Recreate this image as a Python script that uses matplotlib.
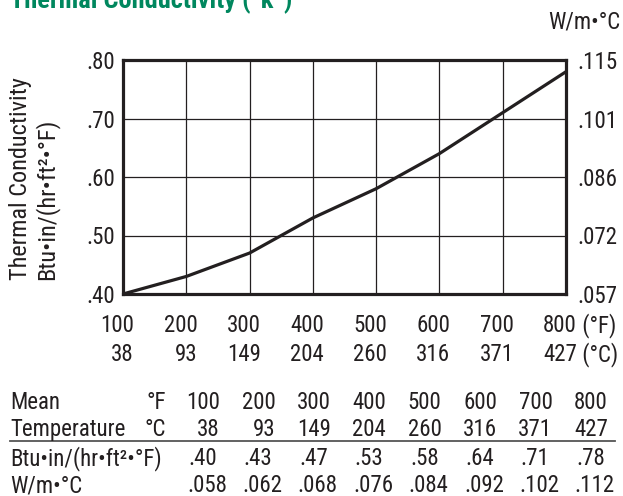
import matplotlib
matplotlib.use("Agg")
import matplotlib.pyplot as plt
import matplotlib.transforms as mtransforms

plt.rcParams['font.family'] = ['Roboto Condensed', 'DejaVu Sans']

temp_f = [100, 200, 300, 400, 500, 600, 700, 800]
temp_c = [38, 93, 149, 204, 260, 316, 371, 427]
k_btu = [0.40, 0.43, 0.47, 0.53, 0.58, 0.64, 0.71, 0.78]
k_si = [0.058, 0.062, 0.068, 0.076, 0.084, 0.092, 0.102, 0.112]
k_btu_lbl = ['.40', '.43', '.47', '.53', '.58', '.64', '.71', '.78']
k_si_lbl = ['.058', '.062', '.068', '.076', '.084', '.092', '.102', '.112']
left_ticks = [0.40, 0.50, 0.60, 0.70, 0.80]
left_lbl = ['.40', '.50', '.60', '.70', '.80']
right_lbl = ['.057', '.072', '.086', '.101', '.115']

W, H = 623, 496
FS = 16.5
ink = '#231f20'
green = '#00875e'


def fx(x):
    return x / W


def fy(y):
    return 1 - y / H


fig = plt.figure(figsize=(W / 100, H / 100), dpi=100)
ax = fig.add_axes([fx(123), fy(294), (566 - 123) / W, (294 - 60) / H])

ax.plot(temp_f, k_btu, color=ink, lw=2.3, solid_capstyle='butt', solid_joinstyle='round', zorder=3)
ax.set_xlim(100, 800)
ax.set_ylim(0.40, 0.80)
ax.set_xticks(temp_f)
ax.set_yticks(left_ticks)
ax.grid(True, color=ink, lw=0.9)
ax.set_axisbelow(True)
for s in ax.spines.values():
    s.set_linewidth(2.3)
    s.set_color(ink)
ax.tick_params(length=0)
ax.set_xticklabels([])
ax.set_yticklabels(left_lbl, fontsize=FS, color=ink)
ax.tick_params(axis='y', pad=5.5)

ax2 = ax.twinx()
ax2.set_ylim(0.40, 0.80)
ax2.set_yticks(left_ticks)
ax2.set_yticklabels(right_lbl, fontsize=FS, color=ink)
ax2.tick_params(length=0, pad=8.5)
for s in ax2.spines.values():
    s.set_visible(False)

# x tick labels, two rows, right edge a bit past the gridline
tr = mtransforms.offset_copy(ax.get_xaxis_transform(), fig=fig, x=11, y=0, units='dots')
y1 = -(323 - 294) / (294 - 60)
y2 = -(352 - 294) / (294 - 60)
for f, c in zip(temp_f, temp_c):
    ax.text(f, y1, str(f), transform=tr, ha='right', va='center_baseline', fontsize=FS, color=ink)
    ax.text(f, y2, str(c), transform=tr, ha='right', va='center_baseline', fontsize=FS, color=ink)
ax.text(temp_f[-1], y1, ' (°F)', transform=tr, ha='left', va='center_baseline', fontsize=FS, color=ink)
ax.text(temp_f[-1], y2, ' (°C)', transform=tr, ha='left', va='center_baseline', fontsize=FS, color=ink)

# axis labels
fig.text(fx(21), fy(280), 'Thermal Conductivity', rotation=90, ha='center', va='bottom', fontsize=17.5, color=ink)
fig.text(fx(47), fy(280), 'Btu•in/(hr•ft²•°F)', rotation=90, ha='center', va='bottom', fontsize=17.5, color=ink)
fig.text(fx(620), fy(19), 'W/m•°C', ha='right', va='center_baseline', fontsize=FS, color=ink)

# title (cut at the top edge)
fig.text(fx(10), fy(8), 'Thermal Conductivity (“k”)', ha='left', va='baseline', fontsize=19,
         fontweight='bold', color=green)

# table under the chart
col_right = [220 + i * 55.4 for i in range(len(temp_f))]
rows = [400, 427, 456, 483]
fig.text(fx(10), fy(rows[0]), 'Mean', ha='left', va='center_baseline', fontsize=FS, color=ink)
fig.text(fx(166), fy(rows[0]), '°F', ha='right', va='center_baseline', fontsize=FS, color=ink)
fig.text(fx(10), fy(rows[1]), 'Temperature', ha='left', va='center_baseline', fontsize=FS, color=ink)
fig.text(fx(166), fy(rows[1]), '°C', ha='right', va='center_baseline', fontsize=FS, color=ink)
fig.text(fx(10), fy(rows[2]), 'Btu•in/(hr•ft²•°F)', ha='left', va='center_baseline', fontsize=FS, color=ink)
fig.text(fx(10), fy(rows[3]), 'W/m•°C', ha='left', va='center_baseline', fontsize=FS, color=ink)
for i in range(len(temp_f)):
    x = col_right[i]
    fig.text(fx(x), fy(rows[0]), str(temp_f[i]), ha='right', va='center_baseline', fontsize=FS, color=ink)
    fig.text(fx(x), fy(rows[1]), str(temp_c[i]), ha='right', va='center_baseline', fontsize=FS, color=ink)
    fig.text(fx(x - 3), fy(rows[2]), k_btu_lbl[i], ha='right', va='center_baseline', fontsize=FS, color=ink)
    fig.text(fx(x + 7), fy(rows[3]), k_si_lbl[i], ha='right', va='center_baseline', fontsize=FS, color=ink)

fig.add_artist(plt.Line2D([fx(10), fx(615)], [fy(441), fy(441)], color='#555555', lw=1.3))

fig.savefig('out.png', dpi=100)
